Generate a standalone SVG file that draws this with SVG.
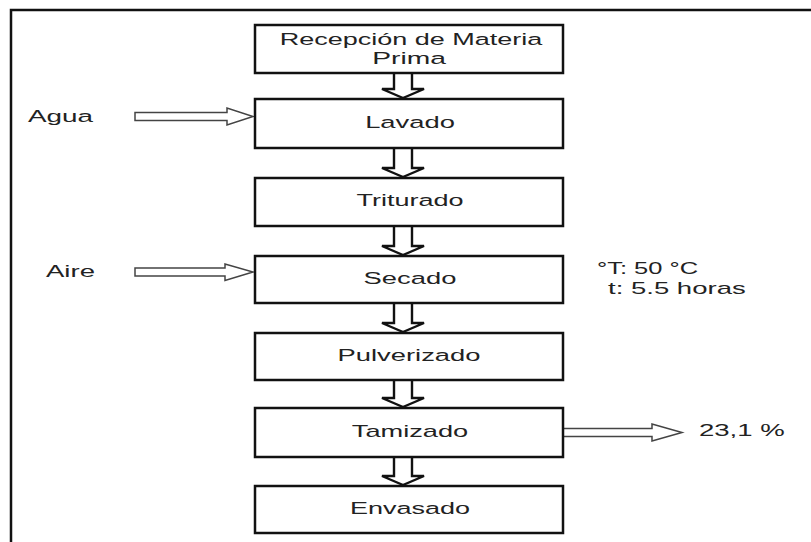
<svg xmlns="http://www.w3.org/2000/svg" width="811" height="542" viewBox="0 0 811 542">
<style>
.box{fill:#fff;stroke:#111;stroke-width:2.5}
.lbl{font-family:"Liberation Sans",Arial,sans-serif;font-size:17px;fill:#222}
.c{text-anchor:middle}
.down{fill:#fff;stroke:#111;stroke-width:2.4;stroke-linejoin:miter}
.side{fill:#fff;stroke:#444;stroke-width:1.5;stroke-linejoin:miter}
.frame{fill:none;stroke:#111;stroke-width:2.5}
</style>
<rect width="811" height="542" fill="#fff"/>
<path class="frame" d="M11,542 V10 H811"/>
<g id="connectors">
<path class="down" d="M394,73 V89 H382 L403,98 L424,89 H412 V73"/>
<path class="down" d="M394,148 V168 H382 L403,177 L424,168 H412 V148"/>
<path class="down" d="M394,226 V246 H382 L403,255 L424,246 H412 V226"/>
<path class="down" d="M394,303 V323 H382 L403,332 L424,323 H412 V303"/>
<path class="down" d="M394,380 V398 H382 L403,407 L424,398 H412 V380"/>
<path class="down" d="M394,457 V476 H382 L403,485 L424,476 H412 V457"/>
<path class="side" d="M135,112.5 H227 V108 L253,116.5 L227,125 V120.5 H135 Z"/>
<path class="side" d="M135,268 H225 V264 L253,272 L225,280.5 V276 H135 Z"/>
<path class="side" d="M563,428.5 H652 V424 L682,432.5 L652,441 V436.5 H563"/>
</g>
<g id="recepcion">
<rect class="box" x="255" y="25" width="308" height="48"/>
<text class="lbl c" transform="translate(411,45) scale(1.59,1)">Recepción de Materia</text>
<text class="lbl c" transform="translate(409,64) scale(1.66,1)">Prima</text>
</g>
<g id="lavado">
<rect class="box" x="255" y="99" width="308" height="49"/>
<text class="lbl c" transform="translate(410,128) scale(1.61,1)">Lavado</text>
</g>
<g id="triturado">
<rect class="box" x="255" y="178" width="308" height="48"/>
<text class="lbl c" transform="translate(410,206) scale(1.59,1)">Triturado</text>
</g>
<g id="secado">
<rect class="box" x="255" y="256" width="308" height="47"/>
<text class="lbl c" transform="translate(410,284) scale(1.61,1)">Secado</text>
</g>
<g id="pulverizado">
<rect class="box" x="255" y="333" width="308" height="47"/>
<text class="lbl c" transform="translate(409,361) scale(1.61,1)">Pulverizado</text>
</g>
<g id="tamizado">
<rect class="box" x="255" y="408" width="308" height="49"/>
<text class="lbl c" transform="translate(410,437) scale(1.6,1)">Tamizado</text>
</g>
<g id="envasado">
<rect class="box" x="255" y="486" width="308" height="47"/>
<text class="lbl c" transform="translate(410,514) scale(1.59,1)">Envasado</text>
</g>
<g id="agua">
<text class="lbl" transform="translate(28,122) scale(1.64,1)">Agua</text>
</g>
<g id="aire">
<text class="lbl" transform="translate(46,277) scale(1.62,1)">Aire</text>
</g>
<g id="condiciones">
<text class="lbl" transform="translate(597,274) scale(1.5,1)">°T: 50 °C</text>
<text class="lbl" transform="translate(608,294) scale(1.62,1)">t: 5.5 horas</text>
</g>
<g id="rendimiento">
<text class="lbl" transform="translate(699,436) scale(1.62,1)">23,1 %</text>
</g>
</svg>
